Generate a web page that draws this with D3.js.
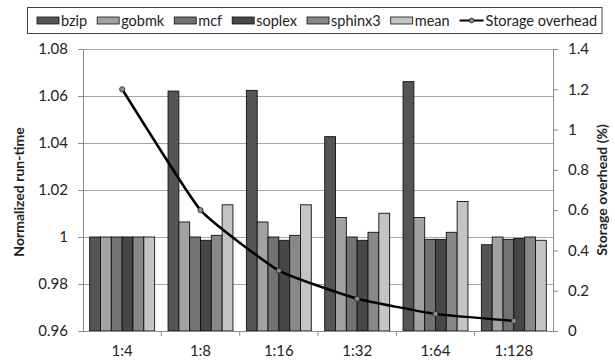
<!DOCTYPE html>
<html>
<head>
<meta charset="utf-8">
<script src="https://cdn.jsdelivr.net/npm/d3@7"></script>
<style>
  body { margin: 0; background: #fff; }
  text { font-family: Lato, "Open Sans", sans-serif; fill: #222; }
</style>
</head>
<body>
<div id="chart"></div>
<script>
const categories = ['1:4', '1:8', '1:16', '1:32', '1:64', '1:128'];
const seriesNames = ['bzip', 'gobmk', 'mcf', 'soplex', 'sphinx3', 'mean'];
const bzip    = [1.0, 1.0621, 1.0624, 1.0427, 1.0661, 0.9967];
const gobmk   = [1.0, 1.0064, 1.0064, 1.0083, 1.0083, 1.0];
const mcf     = [1.0, 1.0, 1.0, 1.0, 0.999, 0.999];
const soplex  = [1.0, 0.9986, 0.9986, 0.9986, 0.999, 0.9994];
const sphinx3 = [1.0, 1.0007, 1.0007, 1.002, 1.002, 1.0];
const mean    = [1.0, 1.0137, 1.0137, 1.0101, 1.0151, 0.9986];
const storageOverhead = [1.2, 0.6, 0.3, 0.16, 0.085, 0.05];
const leftTicks = [0.96, 0.98, 1, 1.02, 1.04, 1.06, 1.08];
const rightTicks = [0, 0.2, 0.4, 0.6, 0.8, 1, 1.2, 1.4];

const seriesValues = [bzip, gobmk, mcf, soplex, sphinx3, mean];
const colors = ['#555555', '#a2a2a2', '#737373', '#474747', '#888888', '#c4c4c4'];

const W = 615, H = 361;
const mLeft = 83, mRight = 553, mTop = 49, mBottom = 331;

const svg = d3.select('#chart').append('svg')
  .attr('width', W).attr('height', H);

const x = d3.scaleBand().domain(categories).range([mLeft, mRight]);
const inner = d3.scaleBand().domain(seriesNames)
  .range([0, x.bandwidth()]).paddingOuter(0.62).paddingInner(0);
const y = d3.scaleLinear().domain([0.96, 1.08]).range([mBottom, mTop]);
const y2 = d3.scaleLinear().domain([0, 1.4]).range([mBottom, mTop]);

// gridlines
svg.append('g')
  .selectAll('line')
  .data(leftTicks.slice(1))
  .join('line')
  .attr('x1', mLeft).attr('x2', mRight)
  .attr('y1', d => Math.round(y(d)) + 0.5).attr('y2', d => Math.round(y(d)) + 0.5)
  .attr('stroke', '#a6a6a6').attr('stroke-width', 1);

// bars
const table = categories.map((c, i) => ({
  cat: c,
  vals: seriesNames.map((s, j) => ({ s, v: seriesValues[j][i], color: colors[j] }))
}));

svg.append('g')
  .selectAll('g')
  .data(table)
  .join('g')
  .attr('transform', d => `translate(${x(d.cat)},0)`)
  .selectAll('rect')
  .data(d => d.vals)
  .join('rect')
  .attr('x', d => inner(d.s))
  .attr('width', inner.bandwidth())
  .attr('y', d => y(d.v))
  .attr('height', d => y(0.96) - y(d.v))
  .attr('fill', d => d.color)
  .attr('stroke', '#111')
  .attr('stroke-width', 0.9);

// axes
function yAxis(g) {
  g.attr('transform', `translate(${mLeft},0)`)
    .call(d3.axisLeft(y).tickValues(leftTicks).tickSize(5).tickPadding(10)
      .tickFormat(d => d === 1 ? '1' : d3.format('.2f')(d)))
    .call(g => g.selectAll('line, path').attr('stroke', '#8c8c8c'))
    .call(g => g.selectAll('text').attr('font-size', '15px').attr('fill', '#222'));
}
function y2Axis(g) {
  g.attr('transform', `translate(${mRight},0)`)
    .call(d3.axisRight(y2).tickValues(rightTicks).tickSize(5).tickPadding(10)
      .tickFormat(d => d === 0 ? '0' : d === 1 ? '1' : d3.format('.1f')(d)))
    .call(g => g.selectAll('line, path').attr('stroke', '#8c8c8c'))
    .call(g => g.selectAll('text').attr('font-size', '15px').attr('fill', '#222'));
}
function xAxis(g) {
  g.attr('transform', `translate(0,${mBottom})`)
    .call(d3.axisBottom(x).tickSize(0).tickPadding(14))
    .call(g => g.select('.domain').attr('stroke', '#8c8c8c'))
    .call(g => g.selectAll('text').attr('font-size', '15px').attr('fill', '#222'));
  g.selectAll('.sep')
    .data(categories.slice(1))
    .join('line')
    .attr('class', 'sep')
    .attr('x1', d => x(d)).attr('x2', d => x(d))
    .attr('y1', 0).attr('y2', 5)
    .attr('stroke', '#8c8c8c');
}
svg.append('g').call(xAxis);
svg.append('g').call(yAxis);
svg.append('g').call(y2Axis);

// storage overhead line
const pts = categories.map((c, i) => [x(c) + x.bandwidth() / 2, y2(storageOverhead[i])]);
svg.append('path')
  .datum(pts)
  .attr('d', d3.line().curve(d3.curveCardinal.tension(0.6)))
  .attr('fill', 'none')
  .attr('stroke', '#000')
  .attr('stroke-width', 2.5);
svg.append('g')
  .selectAll('circle')
  .data(pts)
  .join('circle')
  .attr('cx', d => d[0]).attr('cy', d => d[1]).attr('r', 2.6)
  .attr('fill', '#8c8c8c').attr('stroke', '#222').attr('stroke-width', 0.8);

// axis titles
svg.append('text')
  .attr('transform', `translate(24,${(mTop + mBottom) / 2 + 2}) rotate(-90)`)
  .attr('text-anchor', 'middle')
  .attr('font-size', '14px').attr('font-weight', 'bold')
  .text('Normalized run-time');
svg.append('text')
  .attr('transform', `translate(607,${(mTop + mBottom) / 2 + 0}) rotate(-90)`)
  .attr('text-anchor', 'middle')
  .attr('font-size', '14px').attr('font-weight', 'bold')
  .text('Storage overhead (%)');

// legend
const legend = svg.append('g');
const box = legend.append('rect')
  .attr('x', 27.5).attr('y', 7.5).attr('height', 26)
  .attr('fill', '#fff').attr('stroke', '#444').attr('stroke-width', 1);

let lx = 37;
const ly = 20.5;
seriesNames.forEach((s, i) => {
  legend.append('rect')
    .attr('x', lx).attr('y', ly - 3.5).attr('width', 22).attr('height', 7)
    .attr('fill', colors[i]).attr('stroke', '#111').attr('stroke-width', 0.8);
  const t = legend.append('text')
    .attr('x', lx + 24).attr('y', ly + 5)
    .attr('font-size', '14.5px')
    .text(s);
  lx += 24 + t.node().getComputedTextLength() + 10;
});
legend.append('line')
  .attr('x1', lx).attr('x2', lx + 24).attr('y1', ly).attr('y2', ly)
  .attr('stroke', '#000').attr('stroke-width', 2);
legend.append('circle')
  .attr('cx', lx + 12).attr('cy', ly).attr('r', 2.4)
  .attr('fill', '#8c8c8c').attr('stroke', '#222').attr('stroke-width', 0.8);
const lastText = legend.append('text')
  .attr('x', lx + 26).attr('y', ly + 5)
  .attr('font-size', '14.5px')
  .text('Storage overhead');
box.attr('width', lx + 26 + lastText.node().getComputedTextLength() + 5 - 27.5);
</script>
</body>
</html>
